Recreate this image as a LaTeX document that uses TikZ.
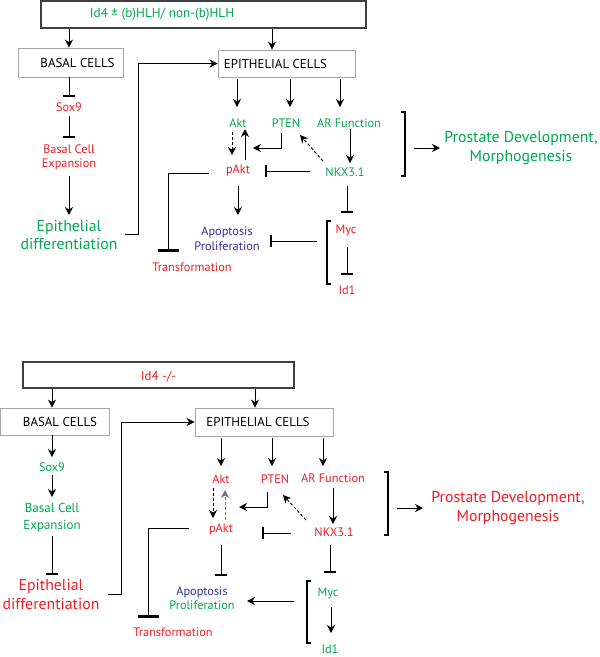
\documentclass[tikz,border=0pt]{standalone}
\usepackage{fontspec}
\setmainfont{PT Sans}
\usetikzlibrary{arrows.meta,calc}
\definecolor{pgreen}{RGB}{0,166,81}
\definecolor{pred}{RGB}{237,28,36}
\definecolor{pblue}{RGB}{46,49,146}
\begin{document}
\begin{tikzpicture}[x=1pt,y=-1pt,
  lbl/.style={font=\fontsize{12.3}{14}\selectfont, inner sep=0pt, align=center},
  lblb/.style={font=\fontsize{13}{17}\selectfont, inner sep=0pt, align=center},
  big/.style={font=\fontsize{15.8}{18.5}\selectfont, inner sep=0pt, align=center},
  boxlbl/.style={font=\fontsize{12.9}{16}\selectfont, inner sep=0pt},
  darkbox/.style={draw=black!75, line width=1.3pt, inner sep=0pt},
  lightbox/.style={draw=black!35, line width=0.9pt, inner sep=0pt},
  arr/.style={line width=0.9pt, -{Stealth[length=8pt,width=8pt]}},
  tee/.style={line width=0.9pt, -{Bar[width=12pt,line width=2pt]}},
  bigtee/.style={line width=0.9pt, -{Bar[width=21pt,line width=3.5pt]}},
  dsh/.style={dash pattern=on 3pt off 2pt},
  brk/.style={line width=2.5pt, line join=miter}]
\useasboundingbox (0,0) rectangle (600,657);

% ================= TOP PANEL =================
\node[darkbox, minimum width=325pt, minimum height=27pt,
  label={[boxlbl,font=\fontsize{13.2}{16}\selectfont,text=pgreen,xshift=-41.5pt]center:Id4 ± (b)HLH/ non-(b)HLH}] (top1) at (203.5,14.5) {};
\node[lightbox, minimum width=105pt, minimum height=29pt,
  label={[boxlbl,xshift=7pt]center:BASAL CELLS}] (basal1) at (70.5,62.5) {};
\node[lightbox, minimum width=137pt, minimum height=27pt,
  label={[boxlbl,xshift=-11pt]center:EPITHELIAL CELLS}] (epi1) at (286.5,63.5) {};

\node[lbl, text=pred] (sox1) at (69,107) {Sox9};
\node[lbl, text=pred] (bce1) at (69,157) {Basal Cell\\Expansion};
\node[big, text=pgreen] (ed1) at (69,235) {Epithelial\\differentiation};
\node[lbl, text=pred] (trans1) at (192,267) {Transformation};
\node[lbl, text=pgreen] (akt1) at (238,123) {Akt};
\node[lbl, text=pgreen] (pten1) at (286,123) {PTEN};
\node[lbl, text=pgreen] (ar1) at (349,123) {AR Function};
\node[lbl, text=pred] (pakt1) at (238,170) {pAkt};
\node[lbl, text=pgreen] (nkx1) at (345,172) {NKX3.1};
\node[lbl, text=pblue, font=\fontsize{12.3}{15}\selectfont] (apo1) at (227,238.5) {Apoptosis\\Proliferation};
\node[lbl, text=pred] (myc1) at (346,230) {Myc};
\node[lbl, text=pred] (id11) at (347,290) {Id1};
\node[big, text=pgreen, font=\fontsize{15.8}{19}\selectfont] (pd1) at (521,148.5) {Prostate Development,\\Morphogenesis};

\draw[arr] ([xshift=-134.5pt]top1.south) -- ([xshift=-1.5pt]basal1.north);
\draw[arr] ([xshift=68.5pt]top1.south) -- ([xshift=-14.5pt]epi1.north);
\draw[arr] ($(ed1)+(56,-1)$) -- ++(13,0) |- (epi1.west);
\draw[tee] ([xshift=-1.5pt]basal1.south) -- ($(sox1)+(0,-10)$);
\draw[tee] ($(sox1)+(0,9)$) -- ($(bce1)+(0,-19)$);
\draw[arr] ($(bce1)+(0,19)$) -- ($(ed1)+(0,-20)$);
\draw[bigtee] ($(pakt1)+(-29,3)$) -| ($(trans1)+(-24,-15)$);
\draw[arr] ($(akt1)+(-1,-44)$) -- ($(akt1)+(-1,-16)$);
\draw[arr] ($(pten1)+(4,-44)$) -- ($(pten1)+(4,-16)$);
\draw[arr] ($(ar1)+(-9,-44)$) -- ($(ar1)+(-9,-16)$);
\draw[arr,dsh] ($(akt1)+(-6,9)$) -- ($(pakt1)+(-6,-15)$);
\draw[arr] ($(pakt1)+(7,-10)$) -- ($(akt1)+(7,6)$);
\draw[arr] ($(pten1)+(-5,10)$) |- ($(pakt1)+(15,-22)$);
\draw[arr,dsh] ($(nkx1)+(-22,-11)$) -- ($(pten1)+(14,12)$);
\draw[arr] ($(ar1)+(1,6)$) -- ($(nkx1)+(5,-9)$);
\draw[tee] ($(nkx1)+(-35,-1)$) -- ($(pakt1)+(27,1)$);
\draw[arr] ($(pakt1)+(0,16)$) -- ($(apo1)+(11,-23.5)$);
\draw[tee] ($(nkx1)+(2,14)$) -- ($(myc1)+(1,-17)$);
\draw[tee] ($(myc1)+(-29,11)$) -- ($(apo1)+(43,2.5)$);
\draw[tee] ($(myc1)+(1,17)$) -- ($(id11)+(0,-15)$);
\draw[brk] ($(myc1)+(-15,-9)$) -- ++(-4,0) -- ++(0,63) -- ++(4,0);
\draw[brk] ($(pd1)+(-120,-36.5)$) -- ++(4,0) -- ++(0,64) -- ++(-4,0);
\draw[arr] ($(pd1)+(-107,-0.5)$) -- ($(pd1)+(-81,-0.5)$);

% ================= BOTTOM PANEL =================
\node[darkbox, minimum width=271pt, minimum height=26pt,
  label={[boxlbl,text=pred,yshift=-1.5pt]center:Id4 -/-}] (top2) at (158.5,375) {};
\node[lightbox, minimum width=109pt, minimum height=27pt,
  label={[boxlbl,xshift=5pt]center:BASAL CELLS}] (basal2) at (55,421.5) {};
\node[lightbox, minimum width=138pt, minimum height=28pt,
  label={[boxlbl,xshift=-6pt]center:EPITHELIAL CELLS}] (epi2) at (264,422) {};

\node[lbl, text=pgreen] (sox2) at (52,467) {Sox9};
\node[lblb, text=pgreen] (bce2) at (52,517.5) {Basal Cell\\Expansion};
\node[big, text=pred] (ed2) at (51,594.5) {Epithelial\\differentiation};
\node[lbl, text=pred] (trans2) at (173,632) {Transformation};
\node[lbl, text=pred] (akt2) at (221,479) {Akt};
\node[lbl, text=pred] (pten2) at (275,479) {PTEN};
\node[lbl, text=pred] (ar2) at (333,478) {AR Function};
\node[lbl, text=pred] (pakt2) at (221,529) {pAkt};
\node[lbl, text=pred] (nkx2) at (334,532) {NKX3.1};
\node[lbl, font=\fontsize{12.3}{14}\selectfont] (apo2) at (202,598) {\textcolor{pblue}{Apoptosis}\\\textcolor{pgreen}{Proliferation}};
\node[lbl, text=pgreen] (myc2) at (328,593) {Myc};
\node[lbl, text=pgreen] (id12) at (330,649) {Id1};
\node[big, text=pred, font=\fontsize{15.8}{19}\selectfont] (pd2) at (508,508.5) {Prostate Development,\\Morphogenesis};

\draw[arr] ([xshift=-106.5pt]top2.south) -- ([xshift=-3pt]basal2.north);
\draw[arr] ([xshift=96.5pt]top2.south) -- ([xshift=-9pt]epi2.north);
\draw[arr] ($(ed2)+(57,-0.5)$) -- ++(13,0) |- (epi2.west);
\draw[arr] ([xshift=-3pt]basal2.south) -- ($(sox2)+(0,-10)$);
\draw[arr] ($(sox2)+(0,8)$) -- ($(bce2)+(0,-20.5)$);
\draw[tee] ($(bce2)+(0,18.5)$) -- ($(ed2)+(1,-19.5)$);
\draw[bigtee] ($(pakt2)+(-32,-1)$) -| ($(trans2)+(-25,-14)$);
\draw[arr] ($(akt2)+(0,-41)$) -- ($(akt2)+(0,-13)$);
\draw[arr] ($(pten2)+(-3,-41)$) -- ($(pten2)+(-3,-13)$);
\draw[arr] ($(ar2)+(-10,-40)$) -- ($(ar2)+(-10,-12)$);
\draw[arr,dsh] ($(akt2)+(-8,9)$) -- ($(pakt2)+(-8,-11)$);
\draw[arr,dsh,black!55] ($(pakt2)+(4,-9)$) -- ($(akt2)+(4,11)$);
\draw[arr] ($(pten2)+(-8,13)$) |- ($(pakt2)+(18,-22)$);
\draw[arr,dsh] ($(nkx2)+(-28,-12)$) -- ($(pten2)+(8,16)$);
\draw[arr] ($(ar2)+(0,10)$) -- ($(nkx2)+(-1,-8)$);
\draw[tee] ($(nkx2)+(-43,1)$) -- ($(pakt2)+(41,4)$);
\draw[tee] ($(pakt2)+(0,16)$) -- ($(apo2)+(19,-22)$);
\draw[tee] ($(nkx2)+(-4,13)$) -- ($(myc2)+(2,-20)$);
\draw[arr] ($(myc2)+(-34,8)$) -- ($(apo2)+(45,3)$);
\draw[arr] ($(myc2)+(3,14)$) -- ($(id12)+(1,-16)$);
\draw[brk] ($(myc2)+(-17,-12)$) -- ++(-4,0) -- ++(0,62) -- ++(4,0);
\draw[brk] ($(pd2)+(-124,-36.5)$) -- ++(4,0) -- ++(0,63) -- ++(-4,0);
\draw[arr] ($(pd2)+(-111,-0.5)$) -- ($(pd2)+(-85,-0.5)$);
\end{tikzpicture}
\end{document}
